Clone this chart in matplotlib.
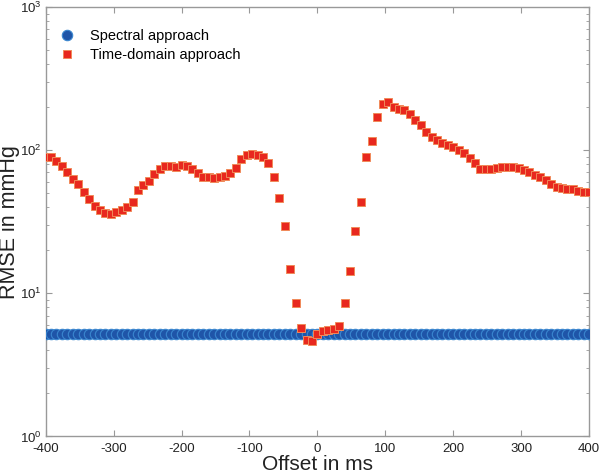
import matplotlib
matplotlib.use("Agg")
import matplotlib.pyplot as plt
import numpy as np

plt.rcParams['font.family'] = ['Liberation Sans', 'DejaVu Sans']
plt.rcParams['mathtext.fontset'] = 'custom'
plt.rcParams['mathtext.rm'] = 'Liberation Sans'
plt.rcParams['mathtext.it'] = 'Liberation Sans'
plt.rcParams['mathtext.bf'] = 'Liberation Sans'

offset_ms = list(range(-400, 401, 8))

spectral_rmse = [5.17, 5.17, 5.17, 5.17, 5.17, 5.17, 5.17, 5.17, 5.17, 5.17,
                 5.17, 5.17, 5.17, 5.17, 5.17, 5.17, 5.17, 5.17, 5.17, 5.17,
                 5.17, 5.17, 5.17, 5.17, 5.17, 5.17, 5.17, 5.17, 5.17, 5.17,
                 5.17, 5.17, 5.17, 5.17, 5.17, 5.17, 5.17, 5.17, 5.17, 5.17,
                 5.17, 5.17, 5.17, 5.17, 5.17, 5.17, 5.17, 5.17, 5.17, 5.17,
                 5.17, 5.17, 5.17, 5.17, 5.17, 5.17, 5.17, 5.17, 5.17, 5.17,
                 5.17, 5.17, 5.17, 5.17, 5.17, 5.17, 5.17, 5.17, 5.17, 5.17,
                 5.17, 5.17, 5.17, 5.17, 5.17, 5.17, 5.17, 5.17, 5.17, 5.17,
                 5.17, 5.17, 5.17, 5.17, 5.17, 5.17, 5.17, 5.17, 5.17, 5.17,
                 5.17, 5.17, 5.17, 5.17, 5.17, 5.17, 5.17, 5.17, 5.17, 5.17,
                 5.17]

time_domain_rmse = [89.2, 89.2, 84.6, 78.1, 70.2, 63.1, 58.3, 50.9, 45.3, 40.7,
                    38.2, 36.6, 36.0, 37.0, 38.4, 39.9, 43.4, 52.6, 57.4, 60.8,
                    68.4, 74.1, 77.3, 77.3, 76.0, 79.4, 78.1, 74.1, 69.5, 65.5,
                    64.8, 64.2, 65.5, 66.6, 69.1, 75.3, 86.7, 92.8, 93.7, 92.8,
                    89.8, 81.1, 64.8, 46.6, 29.7, 14.9, 8.60, 5.69, 4.69, 4.66,
                    5.24, 5.48, 5.54, 5.66, 5.92, 8.52, 14.3, 27.4, 43.2, 90.3,
                    116, 171, 211, 217, 201, 194, 190, 178, 163, 149,
                    134, 123, 117, 112, 109, 105, 100.5, 95.8, 88.8, 81.1,
                    74.5, 73.6, 74.1, 74.8, 76.0, 76.5, 76.0, 74.8, 72.9, 70.2,
                    67.6, 65.2, 61.7, 58.3, 55.8, 54.9, 53.8, 53.2, 52.1, 51.5,
                    50.7]

x_ticks = [-400, -300, -200, -100, 0, 100, 200, 300, 400]
x_tick_labels = ['-400', '-300', '-200', '-100', '0', '100', '200', '300', '400']

fig = plt.figure(figsize=(6.0, 4.76), dpi=100)
ax = fig.add_axes([0.076, 0.083, 0.906, 0.902])

ax.plot(offset_ms, spectral_rmse, linestyle='none', marker='o', markersize=7.5,
        markerfacecolor='#1f55a8', markeredgecolor='#3a86cf', markeredgewidth=0.8,
        label='Spectral approach', zorder=3)
ax.plot(offset_ms, time_domain_rmse, linestyle='none', marker='s', markersize=5.5,
        markerfacecolor='#e8281e', markeredgecolor='#f08a5a', markeredgewidth=0.7,
        label='Time-domain approach', zorder=4)

ax.set_yscale('log')
ax.set_xlim(-400, 400)
ax.set_ylim(1, 1000)
ax.set_xticks(x_ticks)
ax.set_xticklabels(x_tick_labels)

for s in ax.spines.values():
    s.set_color('#999999')
    s.set_linewidth(1.0)
ax.tick_params(which='both', direction='in', top=True, right=True, colors='#999999',
               labelcolor='#222222', labelsize=9.5)
ax.tick_params(which='major', length=4)
ax.tick_params(which='minor', length=2.5)
ax.tick_params(axis='x', pad=5)
ax.tick_params(axis='y', pad=3)

ax.set_xlabel('Offset in ms', fontsize=15, color='#222222', labelpad=0)
ax.set_ylabel('RMSE in mmHg', fontsize=15.5, color='#222222', labelpad=0)

leg = ax.legend(loc='upper left', frameon=False, fontsize=10.5, bbox_to_anchor=(0.026, 0.95),
                borderaxespad=0, borderpad=0, handlelength=1.0,
                handletextpad=1.1, labelspacing=0.35, markerscale=1.0)

fig.savefig('out.png', dpi=100)
